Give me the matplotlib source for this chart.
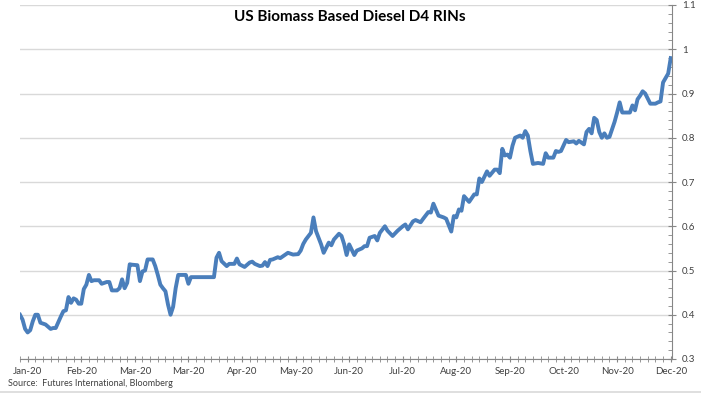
import numpy as np
import matplotlib.pyplot as plt

# trading-day index and D4 RIN price ($/RIN)
days = [0, 1, 2, 3, 4, 5, 6, 7, 8, 10, 12, 13, 14, 16, 17, 18, 19, 20, 21, 22,
        23, 24, 25, 26, 27, 28, 29, 31, 32, 34, 35, 36, 38, 39, 40, 41, 42, 43, 44, 46,
        47, 48, 49, 50, 52, 53, 54, 55, 56, 57, 58, 59, 60, 61, 62, 64, 65, 66, 67, 76,
        77, 78, 79, 81, 82, 84, 85, 86, 88, 90, 91, 92, 94, 95, 96, 97, 98, 99, 101, 102,
        103, 105, 107, 109, 110, 111, 112, 114, 115, 116, 118, 119, 121, 122, 123, 125, 126, 127, 128, 129,
        131, 132, 134, 135, 136, 137, 139, 140, 141, 143, 144, 146, 148, 150, 151, 152, 154, 155, 157, 158,
        160, 161, 162, 164, 166, 167, 169, 170, 171, 172, 173, 174, 176, 178, 179, 180, 181, 183, 184, 186,
        187, 188, 189, 190, 191, 192, 193, 194, 196, 197, 198, 199, 200, 201, 203, 205, 206, 207, 209, 210,
        211, 212, 214, 215, 217, 218, 219, 221, 222, 223, 224, 225, 226, 227, 228, 229, 230, 231, 233, 234,
        235, 236, 238, 239, 240, 241, 242, 243, 244, 245, 247, 249, 250, 251, 252, 254, 255]
rins = [0.400, 0.389, 0.368, 0.360, 0.365, 0.385, 0.400, 0.400, 0.382, 0.378, 0.368, 0.370, 0.370, 0.396, 0.408, 0.410, 0.440, 0.427, 0.437, 0.434,
        0.425, 0.425, 0.458, 0.468, 0.490, 0.476, 0.478, 0.478, 0.470, 0.474, 0.474, 0.455, 0.455, 0.460, 0.480, 0.460, 0.472, 0.514, 0.513, 0.512,
        0.476, 0.498, 0.500, 0.525, 0.525, 0.510, 0.490, 0.468, 0.460, 0.453, 0.423, 0.400, 0.418, 0.460, 0.490, 0.490, 0.490, 0.470, 0.485, 0.485,
        0.529, 0.540, 0.521, 0.510, 0.515, 0.515, 0.527, 0.514, 0.508, 0.518, 0.520, 0.515, 0.510, 0.511, 0.519, 0.510, 0.524, 0.525, 0.530, 0.528,
        0.532, 0.540, 0.536, 0.537, 0.545, 0.560, 0.570, 0.585, 0.620, 0.589, 0.559, 0.540, 0.563, 0.557, 0.570, 0.583, 0.578, 0.560, 0.535, 0.559,
        0.535, 0.545, 0.550, 0.555, 0.555, 0.574, 0.578, 0.568, 0.585, 0.600, 0.590, 0.578, 0.590, 0.600, 0.604, 0.593, 0.611, 0.614, 0.609, 0.617,
        0.632, 0.631, 0.651, 0.624, 0.620, 0.617, 0.588, 0.623, 0.620, 0.638, 0.635, 0.668, 0.655, 0.672, 0.672, 0.708, 0.700, 0.724, 0.714, 0.728,
        0.728, 0.720, 0.775, 0.760, 0.762, 0.755, 0.782, 0.800, 0.805, 0.800, 0.815, 0.805, 0.770, 0.741, 0.743, 0.741, 0.765, 0.755, 0.755, 0.770,
        0.768, 0.770, 0.795, 0.790, 0.792, 0.787, 0.793, 0.785, 0.813, 0.820, 0.810, 0.845, 0.840, 0.813, 0.800, 0.810, 0.800, 0.802, 0.836, 0.857,
        0.880, 0.857, 0.857, 0.857, 0.873, 0.862, 0.887, 0.895, 0.905, 0.900, 0.877, 0.877, 0.880, 0.882, 0.925, 0.945, 0.980]

tick_days = [3, 24, 45, 66, 87, 108, 129, 150, 171, 192, 213, 234, 255]
tick_labels = ['Jan-20', 'Feb-20', 'Mar-20', 'Mar-20', 'Apr-20', 'May-20', 'Jun-20',
               'Jul-20', 'Aug-20', 'Sep-20', 'Oct-20', 'Nov-20', 'Dec-20']

plt.rcParams['font.family'] = ['Lato', 'DejaVu Sans']

fig = plt.figure(figsize=(7.01, 3.93), dpi=100)
ax = fig.add_axes([20 / 701, 1 - 359 / 393, 652 / 701, 354 / 393])

ax.plot(days, rins, color='#4a7ebb', lw=2.8, solid_joinstyle='round')

ax.set_xlim(0, 255.5)
ax.set_ylim(0.3, 1.1)

ax.yaxis.tick_right()
ax.set_yticks(np.arange(0.3, 1.11, 0.1))
ax.set_yticklabels(['0.3', '0.4', '0.5', '0.6', '0.7', '0.8', '0.9', '1', '1.1'])
ax.set_yticks(np.arange(0.3, 1.1, 0.02), minor=True)
ax.set_xticks(tick_days)
ax.set_xticklabels(tick_labels)
ax.set_xticks(np.arange(0, 256, 3), minor=True)

ax.tick_params(axis='y', which='major', direction='inout', length=6, color='#868686',
               labelsize=7, labelcolor='#404040', pad=4)
ax.tick_params(axis='y', which='minor', direction='in', length=3, color='#868686')
ax.tick_params(axis='x', which='both', direction='inout', length=5, color='#868686',
               labelsize=7, labelcolor='#404040', pad=3)

ax.grid(axis='y', which='major', color='#d9d9d9', lw=1)
ax.set_axisbelow(True)
for s in ['left', 'top']:
    ax.spines[s].set_visible(False)
for s in ['right', 'bottom']:
    ax.spines[s].set_color('#868686')
    ax.spines[s].set_linewidth(0.8)

# faint chart-area border along the bottom
fig.add_artist(plt.Line2D([0, 1], [1.5 / 393, 1.5 / 393], transform=fig.transFigure,
                          color='#d9d9d9', lw=1.2))

fig.text(350 / 701, 1 - 17 / 393, 'US Biomass Based Diesel D4 RINs', ha='center', va='center',
         fontsize=11, fontweight='bold', color='#000000')
fig.text(8 / 701, 1 - 383 / 393, 'Source:  Futures International, Bloomberg', ha='left', va='center',
         fontsize=6.5, color='#404040')

fig.savefig('out.png', dpi=100)
